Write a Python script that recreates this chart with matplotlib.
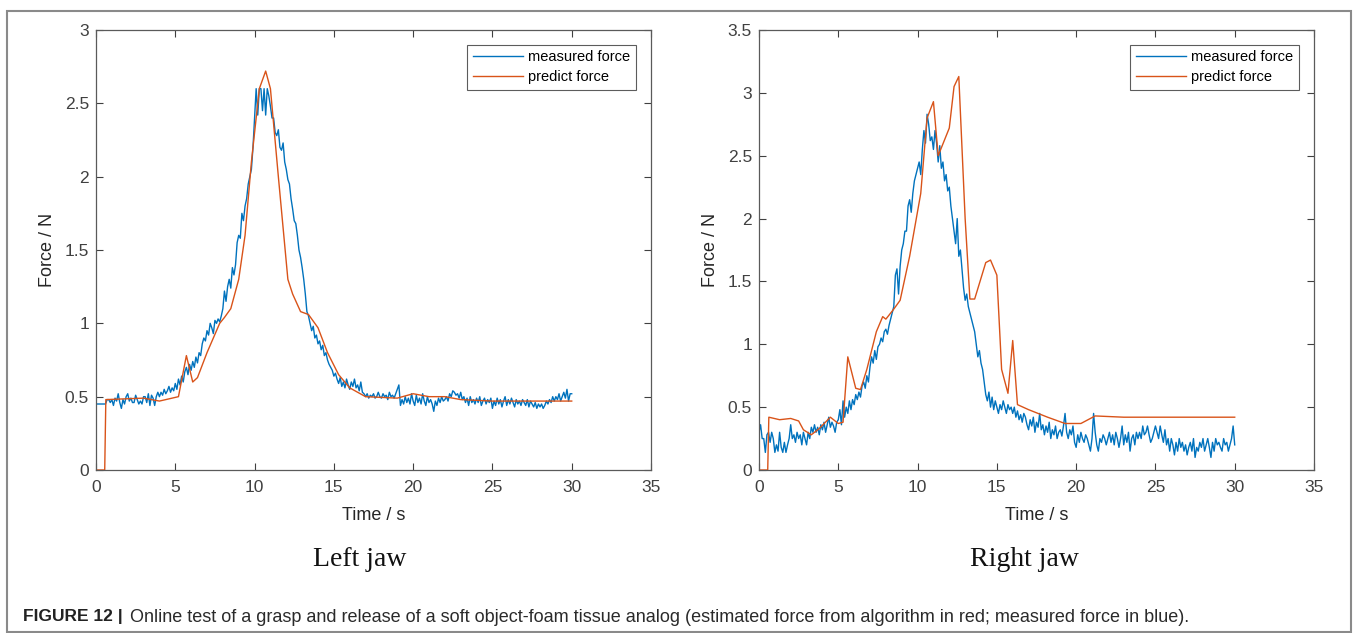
import numpy as np
import matplotlib
matplotlib.use("Agg")
from matplotlib import pyplot as plt
from matplotlib.patches import Rectangle

plt.rcParams['font.family'] = ['Liberation Sans', 'DejaVu Sans']

# sample step of the measured force (s)
dt = 0.1

# left jaw, measured force, one row per second
left_measured = [
    0.45, 0.45, 0.45, 0.45, 0.45, 0.45, 0.45, 0.48, 0.48, 0.46,
    0.48, 0.44, 0.49, 0.47, 0.52, 0.46, 0.42, 0.48, 0.45, 0.50,
    0.52, 0.47, 0.49, 0.46, 0.46, 0.51, 0.48, 0.45, 0.47, 0.45,
    0.50, 0.50, 0.46, 0.52, 0.44, 0.51, 0.49, 0.44, 0.50, 0.53,
    0.50, 0.53, 0.51, 0.55, 0.52, 0.54, 0.57, 0.53, 0.56, 0.54,
    0.59, 0.55, 0.62, 0.58, 0.64, 0.60, 0.67, 0.70, 0.65, 0.72,
    0.68, 0.74, 0.70, 0.77, 0.73, 0.80, 0.78, 0.86, 0.90, 0.88,
    0.95, 0.92, 1.00, 0.97, 0.93, 1.02, 1.00, 1.03, 1.01, 1.05,
    1.10, 1.22, 1.15, 1.25, 1.30, 1.24, 1.38, 1.33, 1.40, 1.55,
    1.60, 1.58, 1.75, 1.70, 1.80, 1.85, 1.95, 2.00, 2.05, 2.20,
    2.40, 2.60, 2.42, 2.60, 2.60, 2.45, 2.60, 2.42, 2.60, 2.55,
    2.48, 2.40, 2.40, 2.30, 2.28, 2.32, 2.20, 2.18, 2.23, 2.10,
    2.05, 1.98, 1.95, 1.85, 1.78, 1.70, 1.68, 1.60, 1.50, 1.45,
    1.38, 1.30, 1.20, 1.08, 1.05, 1.00, 0.95, 0.98, 0.90, 0.92,
    0.86, 0.88, 0.82, 0.85, 0.78, 0.80, 0.75, 0.72, 0.70, 0.68,
    0.64, 0.66, 0.62, 0.59, 0.63, 0.57, 0.60, 0.56, 0.62, 0.58,
    0.55, 0.60, 0.57, 0.62, 0.56, 0.58, 0.54, 0.60, 0.53, 0.52,
    0.50, 0.52, 0.49, 0.51, 0.50, 0.52, 0.49, 0.50, 0.53, 0.50,
    0.49, 0.52, 0.50, 0.51, 0.48, 0.53, 0.50, 0.51, 0.49, 0.52,
    0.55, 0.58, 0.44, 0.48, 0.45, 0.50, 0.46, 0.49, 0.45, 0.52,
    0.47, 0.44, 0.51, 0.46, 0.49, 0.45, 0.52, 0.47, 0.44, 0.50,
    0.46, 0.48, 0.45, 0.40, 0.47, 0.44, 0.49, 0.46, 0.50, 0.47,
    0.48, 0.50, 0.47, 0.52, 0.50, 0.54, 0.53, 0.51, 0.52, 0.49,
    0.53, 0.48, 0.50, 0.46, 0.49, 0.44, 0.50, 0.46, 0.48, 0.45,
    0.49, 0.46, 0.50, 0.44, 0.47, 0.49, 0.45, 0.48, 0.46, 0.49,
    0.42, 0.47, 0.44, 0.49, 0.45, 0.48, 0.43, 0.47, 0.50, 0.44,
    0.48, 0.45, 0.49, 0.46, 0.43, 0.48, 0.45, 0.47, 0.44, 0.48,
    0.46, 0.44, 0.48, 0.43, 0.47, 0.45, 0.43, 0.46, 0.42, 0.45,
    0.43, 0.45, 0.42, 0.44, 0.47, 0.45, 0.48, 0.46, 0.50, 0.47,
    0.50, 0.48, 0.52, 0.47, 0.50, 0.53, 0.49, 0.55, 0.47, 0.52,
    0.52,
]

# left jaw, predicted force (vertices)
left_pred_t = [0, 0.55, 0.62, 3.0, 4.0, 5.2, 5.7, 6.1, 6.4, 7.0, 7.8, 8.1, 8.5,
               9.0, 9.4, 9.8, 10.3, 10.7, 11.0, 11.5, 12.1, 12.4, 12.9, 13.4,
               14.0, 14.6, 15.3, 16.0, 17.0, 19.0, 20.0, 21.0, 22.0, 23.0, 25.0, 30.0]
left_pred_f = [0, 0, 0.48, 0.49, 0.47, 0.50, 0.78, 0.60, 0.63, 0.80, 1.00, 1.04, 1.10,
               1.30, 1.60, 2.10, 2.60, 2.72, 2.60, 2.00, 1.30, 1.20, 1.08, 1.06,
               0.97, 0.80, 0.65, 0.56, 0.50, 0.49, 0.52, 0.50, 0.50, 0.48, 0.47, 0.47]

# right jaw, measured force, one row per second
right_measured = [
    0.30, 0.36, 0.25, 0.25, 0.14, 0.28, 0.30, 0.22, 0.30, 0.25,
    0.14, 0.20, 0.15, 0.30, 0.18, 0.14, 0.22, 0.14, 0.20, 0.25,
    0.36, 0.25, 0.28, 0.22, 0.30, 0.25, 0.28, 0.20, 0.30, 0.25,
    0.20, 0.30, 0.25, 0.34, 0.30, 0.36, 0.30, 0.34, 0.28, 0.36,
    0.32, 0.38, 0.30, 0.36, 0.42, 0.34, 0.38, 0.35, 0.30, 0.38,
    0.40, 0.48, 0.36, 0.55, 0.42, 0.50, 0.45, 0.55, 0.48, 0.56,
    0.52, 0.60, 0.56, 0.62, 0.58, 0.67, 0.70, 0.65, 0.75, 0.70,
    0.82, 0.90, 0.85, 0.95, 0.88, 0.98, 1.00, 1.05, 1.02, 1.10,
    1.12, 1.08, 1.15, 1.20, 1.25, 1.30, 1.55, 1.60, 1.40, 1.62,
    1.75, 1.80, 1.90, 1.90, 2.10, 2.15, 2.05, 2.20, 2.30, 2.35,
    2.40, 2.45, 2.35, 2.55, 2.70, 2.60, 2.83, 2.75, 2.62, 2.65,
    2.55, 2.70, 2.60, 2.45, 2.58, 2.40, 2.45, 2.30, 2.35, 2.22,
    2.25, 2.10, 2.00, 1.90, 1.80, 2.00, 1.70, 1.75, 1.60, 1.45,
    1.35, 1.40, 1.30, 1.25, 1.20, 1.15, 1.10, 1.00, 0.90, 0.95,
    0.85, 0.80, 0.70, 0.60, 0.55, 0.62, 0.50, 0.58, 0.48, 0.55,
    0.50, 0.45, 0.52, 0.48, 0.55, 0.50, 0.45, 0.52, 0.48, 0.50,
    0.45, 0.50, 0.42, 0.47, 0.40, 0.44, 0.38, 0.45, 0.42, 0.36,
    0.32, 0.40, 0.35, 0.42, 0.30, 0.38, 0.34, 0.45, 0.32, 0.36,
    0.28, 0.35, 0.30, 0.38, 0.25, 0.32, 0.28, 0.35, 0.25, 0.30,
    0.32, 0.27, 0.35, 0.45, 0.30, 0.25, 0.32, 0.28, 0.35, 0.22,
    0.18, 0.28, 0.22, 0.30, 0.25, 0.22, 0.28, 0.25, 0.20, 0.15,
    0.25, 0.45, 0.30, 0.20, 0.15, 0.25, 0.22, 0.28, 0.25, 0.20,
    0.25, 0.30, 0.22, 0.28, 0.20, 0.30, 0.25, 0.18, 0.25, 0.35,
    0.20, 0.28, 0.22, 0.30, 0.15, 0.25, 0.28, 0.20, 0.30, 0.25,
    0.30, 0.25, 0.35, 0.28, 0.30, 0.35, 0.28, 0.22, 0.25, 0.30,
    0.35, 0.30, 0.25, 0.35, 0.28, 0.22, 0.32, 0.20, 0.25, 0.15,
    0.25, 0.20, 0.12, 0.22, 0.15, 0.25, 0.18, 0.22, 0.15, 0.20,
    0.12, 0.18, 0.22, 0.15, 0.25, 0.10, 0.18, 0.15, 0.22, 0.18,
    0.25, 0.15, 0.20, 0.25, 0.18, 0.10, 0.22, 0.15, 0.25, 0.20,
    0.22, 0.18, 0.15, 0.25, 0.20, 0.22, 0.15, 0.20, 0.25, 0.35,
    0.20,
]

# right jaw, predicted force (vertices)
right_pred_t = [0, 0.55, 0.62, 1.3, 2.0, 2.5, 2.8, 3.3, 3.8, 4.5, 5.0, 5.3, 5.6,
                6.1, 6.4, 6.8, 7.4, 7.8, 8.0, 8.5, 8.9, 9.5, 10.2, 10.6, 11.0,
                11.3, 12.0, 12.3, 12.6, 13.0, 13.3, 13.6, 14.3, 14.6, 15.0, 15.3,
                15.7, 16.0, 16.3, 17.0, 18.2, 19.3, 20.3, 21.2, 23.0, 24.0, 30.0]
right_pred_f = [0, 0, 0.42, 0.40, 0.41, 0.39, 0.32, 0.28, 0.33, 0.42, 0.37, 0.38, 0.90,
                0.65, 0.64, 0.80, 1.10, 1.22, 1.20, 1.28, 1.35, 1.70, 2.20, 2.80, 2.93,
                2.50, 2.72, 3.05, 3.13, 2.00, 1.36, 1.36, 1.65, 1.67, 1.55, 0.80,
                0.61, 1.03, 0.52, 0.48, 0.42, 0.37, 0.37, 0.43, 0.42, 0.42, 0.42]

blue = '#0072BD'
orange = '#D95319'
axcol = '#404040'

fig = plt.figure(figsize=(13.58, 6.33), dpi=100)
W, H = 1358.0, 633.0


def setup_ax(ax, ymax, yticks, ylabels):
    ax.set_xlim(0, 35)
    ax.set_ylim(0, ymax)
    ax.set_xticks([0, 5, 10, 15, 20, 25, 30, 35])
    ax.set_yticks(yticks)
    ax.set_yticklabels(ylabels)
    ax.tick_params(direction='in', top=True, right=True, length=5,
                   width=0.8, colors=axcol, labelsize=12.5)
    ax.tick_params(axis='x', pad=7)
    ax.tick_params(axis='y', pad=5)
    for s in ax.spines.values():
        s.set_color('#5a5a5a')
        s.set_linewidth(0.9)
    ax.set_xlabel('Time / s', fontsize=13, color='#262626', labelpad=9)
    ax.set_ylabel('Force / N', fontsize=13, color='#262626', labelpad=6)


def add_legend(ax):
    leg = ax.legend(loc='upper right', fontsize=10.5, frameon=True, fancybox=False,
                    borderaxespad=1.0, handlelength=3.4, handletextpad=0.4,
                    borderpad=0.4, labelspacing=0.4)
    leg.get_frame().set_edgecolor('#333333')
    leg.get_frame().set_linewidth(0.8)


# left jaw
ax1 = fig.add_axes([96 / W, 1 - 470 / H, 555 / W, 440 / H])
t1 = np.arange(len(left_measured)) * dt
ax1.plot(t1, left_measured, color=blue, lw=1.0, label='measured force')
ax1.plot(left_pred_t, left_pred_f, color=orange, lw=1.0, label='predict force')
setup_ax(ax1, 3, [0, 0.5, 1, 1.5, 2, 2.5, 3], ['0', '0.5', '1', '1.5', '2', '2.5', '3'])
add_legend(ax1)

# right jaw
ax2 = fig.add_axes([759 / W, 1 - 470 / H, 555 / W, 440 / H])
t2 = np.arange(len(right_measured)) * dt
ax2.plot(t2, right_measured, color=blue, lw=1.0, label='measured force')
ax2.plot(right_pred_t, right_pred_f, color=orange, lw=1.0, label='predict force')
setup_ax(ax2, 3.5, [0, 0.5, 1, 1.5, 2, 2.5, 3, 3.5],
         ['0', '0.5', '1', '1.5', '2', '2.5', '3', '3.5'])
add_legend(ax2)

# panel titles under the plots
fig.text(360 / W, 1 - 560 / H, 'Left jaw', ha='center', va='center',
         fontsize=20, family='Liberation Serif', color='#111111')
fig.text(1024 / W, 1 - 560 / H, 'Right jaw', ha='center', va='center',
         fontsize=20, family='Liberation Serif', color='#111111')

# caption
fig.text(23 / W, 1 - 617 / H, 'FIGURE 12 |', ha='left', va='center',
         fontsize=12.5, fontweight='bold', color='#222222')
fig.text(130 / W, 1 - 617 / H,
         'Online test of a grasp and release of a soft object-foam tissue analog '
         '(estimated force from algorithm in red; measured force in blue).',
         ha='left', va='center', fontsize=13, color='#2a2a2a')

# outer frame
fig.patches.append(Rectangle((7 / W, 1 - 632 / H), 1344 / W, 621 / H,
                             transform=fig.transFigure, fill=False,
                             edgecolor='#8a8a8a', linewidth=1.5))

fig.savefig('out.png', dpi=100)
